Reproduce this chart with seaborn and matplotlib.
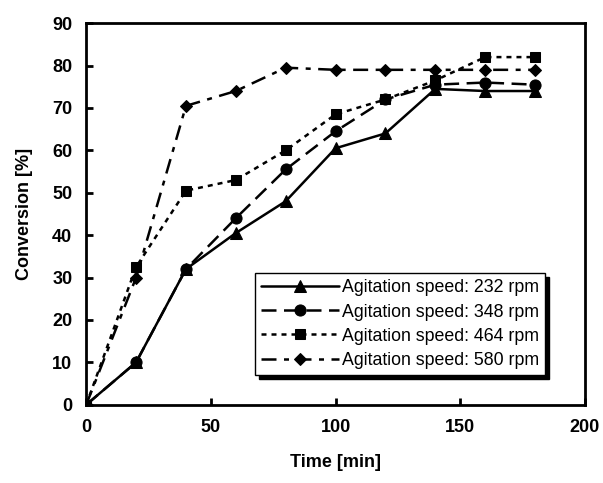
import pandas as pd
import seaborn as sns
import matplotlib.pyplot as plt

# Data
time = [0, 20, 40, 60, 80, 100, 120, 140, 160, 180]
conv_232 = [0, 10, 32, 40.5, 48, 60.5, 64, 74.5, 74, 74]
conv_348 = [0, 10, 32, 44, 55.5, 64.5, 72, 75.5, 76, 75.5]
conv_464 = [0, 32.5, 50.5, 53, 60, 68.5, 72, 76.5, 82, 82]
conv_580 = [0, 30, 70.5, 74, 79.5, 79, 79, 79, 79, 79]
labels = ['Agitation speed: 232 rpm', 'Agitation speed: 348 rpm',
          'Agitation speed: 464 rpm', 'Agitation speed: 580 rpm']

df = pd.DataFrame({'time': time * 4,
                   'conv': conv_232 + conv_348 + conv_464 + conv_580,
                   'series': [l for l in labels for _ in time]})

sns.set_style('ticks')
plt.rcParams['font.family'] = ['Liberation Sans', 'DejaVu Sans']
plt.rcParams['text.color'] = 'black'
plt.rcParams['axes.labelcolor'] = 'black'
plt.rcParams['xtick.color'] = 'black'
plt.rcParams['ytick.color'] = 'black'

fig = plt.figure(figsize=(6.03, 4.83), dpi=100)
ax = fig.add_axes([0.143, 0.162, 0.827, 0.790])

styles = {labels[0]: ('-', '^', 8),
          labels[1]: ((0, (6, 3)), 'o', 8),
          labels[2]: ((0, (2, 2)), 's', 7),
          labels[3]: ((0, (6, 3, 2, 3)), 'D', 6.5)}
for lab in labels:
    ls, mk, ms = styles[lab]
    sns.lineplot(data=df[df['series'] == lab], x='time', y='conv', ax=ax,
                 color='black', linestyle=ls, marker=mk, markersize=ms,
                 markeredgecolor='black', linewidth=1.8, label=lab)

ax.set_xlim(0, 200)
ax.set_ylim(0, 90)
ax.set_xticks([0, 50, 100, 150, 200])
ax.set_yticks(range(0, 91, 10))
for s in ax.spines.values():
    s.set_linewidth(2)
    s.set_color('black')
    s.set_visible(True)
ax.tick_params(direction='in', length=5, width=2, labelsize=13, pad=10)
for t in ax.get_xticklabels() + ax.get_yticklabels():
    t.set_fontweight('bold')
ax.set_xlabel('Time [min]', fontsize=13, fontweight='bold', labelpad=13)
ax.set_ylabel('Conversion [%]', fontsize=13, fontweight='bold', labelpad=14)

leg = ax.legend(loc='lower right', bbox_to_anchor=(0.92, 0.078), fontsize=12.8,
                frameon=True, fancybox=False, edgecolor='black',
                shadow={'color': 'black', 'alpha': 1, 'ox': 3, 'oy': -3},
                handlelength=4.4, handletextpad=0.15, borderpad=0.35,
                labelspacing=0.4, borderaxespad=0)
leg.get_frame().set_linewidth(1)

fig.savefig('out.png', dpi=100)
